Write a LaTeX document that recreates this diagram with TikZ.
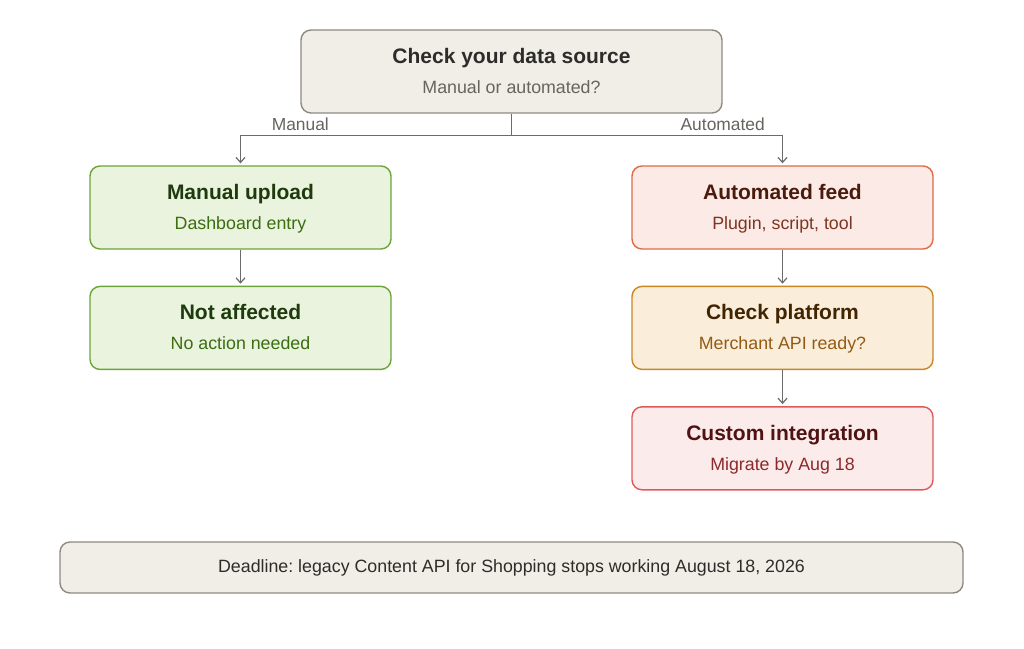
\documentclass[tikz,border=0pt]{standalone}
\usepackage{fontspec}
\setmainfont{Liberation Sans}
\usepackage{xcolor}
\usepackage{tikz}
\usetikzlibrary{calc}
\usetikzlibrary{positioning}
\usetikzlibrary{arrows.meta}
\frenchspacing

\definecolor{sandfill}{HTML}{F1EEE7}
\definecolor{sanddraw}{HTML}{8E8A82}
\definecolor{sandtext}{HTML}{2C2C2A}
\definecolor{sandsub}{HTML}{66645E}
\definecolor{greenfill}{HTML}{EAF3DE}
\definecolor{greendraw}{HTML}{6BA43A}
\definecolor{greentext}{HTML}{1F3A0D}
\definecolor{greensub}{HTML}{3B6D11}
\definecolor{coralfill}{HTML}{FBEAE6}
\definecolor{coraldraw}{HTML}{DE6A47}
\definecolor{coraltext}{HTML}{4A1B0C}
\definecolor{coralsub}{HTML}{7E3520}
\definecolor{amberfill}{HTML}{FAEEDA}
\definecolor{amberdraw}{HTML}{C98526}
\definecolor{ambertext}{HTML}{412402}
\definecolor{ambersub}{HTML}{935A14}
\definecolor{redfill}{HTML}{FCEBEB}
\definecolor{reddraw}{HTML}{DE5A5A}
\definecolor{redtext}{HTML}{501313}
\definecolor{redsub}{HTML}{8A2A2A}
\definecolor{linkgray}{HTML}{6B6B6B}

% box with a bold title and a lighter second line
\newcommand{\flowbox}[5]{%
    \node (#1) [#3box, #2] {};
    \node (#1-t) [#3title] at ([yshift=8.3pt]#1.center) {#4};
    \node (#1-s) [#3sub] at ([yshift=-22pt]#1.center) {#5};
}

\begin{document}
\begin{tikzpicture}[x=1pt, y=-1pt]

        \def\d{36pt}

        \tikzset{
            card/.style={rounded corners=10pt, line width=1.4pt,
                minimum width=301pt, minimum height=83pt, inner sep=0pt},
            head/.style={anchor=base, inner sep=0pt,
                font=\fontsize{21}{25}\selectfont\bfseries},
            tail/.style={anchor=base, inner sep=0pt,
                font=\fontsize{17.8}{21}\selectfont},
            sandbox/.style={card, fill=sandfill, draw=sanddraw,
                minimum width=421pt},
            sandtitle/.style={head, text=sandtext},
            sandsub/.style={tail, text=sandsub},
            greenbox/.style={card, fill=greenfill, draw=greendraw},
            greentitle/.style={head, text=greentext},
            greensub/.style={tail, text=greensub},
            coralbox/.style={card, fill=coralfill, draw=coraldraw},
            coraltitle/.style={head, text=coraltext},
            coralsub/.style={tail, text=coralsub},
            amberbox/.style={card, fill=amberfill, draw=amberdraw},
            ambertitle/.style={head, text=ambertext},
            ambersub/.style={tail, text=ambersub},
            redbox/.style={card, fill=redfill, draw=reddraw},
            redtitle/.style={head, text=redtext},
            redsub/.style={tail, text=redsub},
            link/.style={draw=linkgray, line width=1.2pt,
                -{Straight Barb[length=5pt, width=9pt]}, shorten >=2pt},
            branch/.style={text=sandsub, inner sep=0pt,
                font=\fontsize{17.4}{20}\selectfont}
        }

        \useasboundingbox (0,0) rectangle (1024,648);

        % the question on top
        \flowbox{src}{at={(511.5,71.5)}}{sand}
            {Check your data source}{Manual or automated?}

        % left column
        \flowbox{manual}{at={(240.5,207.5)}}{green}
            {Manual upload}{Dashboard entry}
        \flowbox{safe}{below=\d of manual}{green}
            {Not affected}{No action needed}

        % right column
        \flowbox{auto}{at={(782.5,207.5)}}{coral}
            {Automated feed}{Plugin, script, tool}
        \flowbox{platform}{below=\d of auto}{amber}
            {Check platform}{Merchant API ready?}
        \flowbox{custom}{below=\d of platform}{red}
            {Custom integration}{Migrate by Aug 18}

        % footer note
        \node (deadline) [card, fill=sandfill, draw=sanddraw,
            minimum width=903pt, minimum height=51pt,
            text=sandtext, font=\fontsize{17.8}{20}\selectfont]
            at (511.5,567.5)
            {Deadline: legacy Content API for Shopping stops working August 18, 2026};

        \coordinate (split) at ($(src.south)+(0,22)$);
        \node (lblM) [branch, below=4pt of src.south west] {Manual};
        \node (lblA) [branch, below=4pt of src.south east] {Automated};

        \begin{scope}
            \draw[draw=linkgray, line width=1.2pt] (src.south) -- (split);
            \draw[link] (split) -| (manual.north);
            \draw[link] (split) -| (auto.north);
            \draw[link] (manual) -- (safe);
            \draw[link] (auto) -- (platform);
            \draw[link] (platform) -- (custom);
        \end{scope}

        \end{tikzpicture}
\end{document}
